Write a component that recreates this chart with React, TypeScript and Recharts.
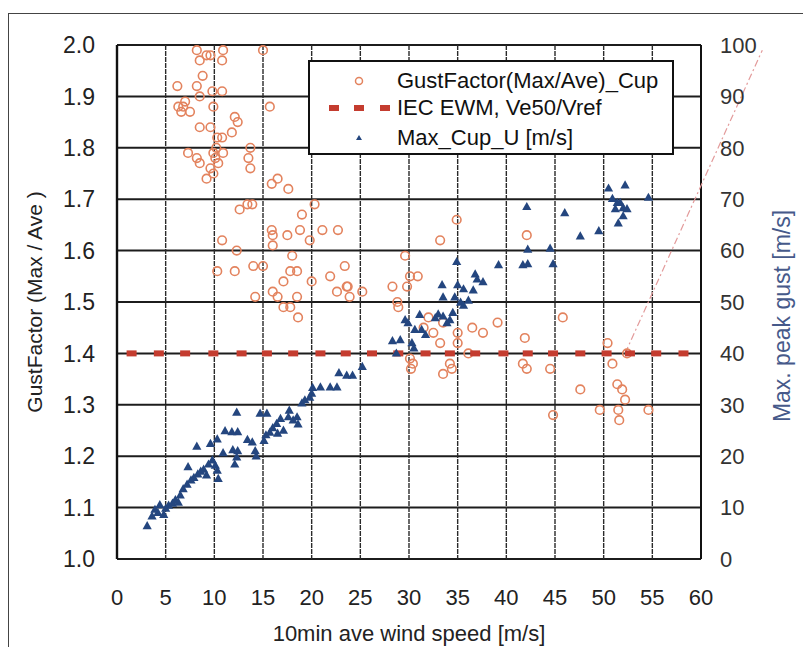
import React from 'react'
import {
  ScatterChart,
  Scatter,
  XAxis,
  YAxis,
  CartesianGrid,
  ReferenceLine,
  Legend,
  Label,
} from 'recharts'

// axis ticks
const windTicks = [0, 5, 10, 15, 20, 25, 30, 35, 40, 45, 50, 55, 60]
const gustTicks = [1.0, 1.1, 1.2, 1.3, 1.4, 1.5, 1.6, 1.7, 1.8, 1.9, 2.0]
const peakTicks = [0, 10, 20, 30, 40, 50, 60, 70, 80, 90, 100]

// GustFactor(Max/Ave)_Cup : [10min ave wind speed, gust factor]
const gustFactorCup: [number, number][] = [
  [8.2, 1.99], [9.2, 1.98], [8.5, 1.97], [9.6, 1.98], [10.9, 1.99], [10.8, 1.97], [15.0, 1.99],
  [8.8, 1.94], [6.2, 1.92], [8.2, 1.92], [9.8, 1.91], [10.8, 1.91], [8.5, 1.9], [6.8, 1.88],
  [6.3, 1.88], [6.6, 1.87], [7.0, 1.89], [7.5, 1.87], [9.9, 1.88], [15.7, 1.88], [12.1, 1.86],
  [12.4, 1.85], [8.5, 1.84], [9.6, 1.84], [11.8, 1.83], [10.3, 1.82], [10.8, 1.82], [13.7, 1.8],
  [7.3, 1.79], [8.2, 1.78], [8.5, 1.77], [10.1, 1.78], [10.2, 1.8], [9.9, 1.79], [10.4, 1.77],
  [10.9, 1.79], [9.6, 1.76], [9.9, 1.75], [9.2, 1.74], [13.5, 1.78], [13.7, 1.76], [15.9, 1.73],
  [16.5, 1.74], [17.6, 1.72], [12.6, 1.68], [13.4, 1.69], [13.9, 1.69], [19.0, 1.67], [20.3, 1.69],
  [15.9, 1.64], [16.0, 1.63], [17.5, 1.63], [18.8, 1.64], [19.8, 1.62], [21.1, 1.64], [22.7, 1.64],
  [16.0, 1.61], [12.3, 1.6], [10.8, 1.62], [18.0, 1.59], [23.4, 1.57], [14.0, 1.57], [12.1, 1.56],
  [10.3, 1.56], [17.8, 1.56], [21.9, 1.55], [15.0, 1.57], [18.5, 1.56], [17.1, 1.54], [16.0, 1.52],
  [16.5, 1.51], [14.2, 1.51], [20.0, 1.54], [22.6, 1.52], [23.7, 1.53], [23.9, 1.51], [18.5, 1.51],
  [17.1, 1.49], [18.6, 1.47], [17.8, 1.49], [23.6, 1.53], [28.3, 1.53], [28.8, 1.5], [34.9, 1.66],
  [33.2, 1.62], [42.1, 1.63], [29.6, 1.59], [30.9, 1.55], [29.8, 1.53], [30.1, 1.55], [25.2, 1.52],
  [28.9, 1.49], [36.5, 1.45], [37.6, 1.44], [39.1, 1.46], [33.2, 1.42], [35.0, 1.42], [41.9, 1.43],
  [32.5, 1.44], [31.5, 1.45], [32.0, 1.47], [33.5, 1.46], [35.0, 1.44], [30.1, 1.39], [34.2, 1.38],
  [34.4, 1.37], [36.1, 1.4], [41.7, 1.38], [42.1, 1.37], [30.4, 1.38], [30.2, 1.37], [33.5, 1.36],
  [45.8, 1.47], [44.5, 1.37], [50.4, 1.42], [50.9, 1.38], [47.6, 1.33], [51.4, 1.34], [51.9, 1.33],
  [52.2, 1.31], [51.5, 1.29], [51.6, 1.27], [49.6, 1.29], [44.8, 1.28], [54.6, 1.29], [52.4, 1.4],
]

// Max_Cup_U [m/s] : [10min ave wind speed, max peak gust]
const maxCupU: [number, number][] = [
  [3.1, 6.4], [3.6, 8.3], [3.9, 9.6], [4.2, 9.0], [4.4, 10.5], [4.8, 8.6], [5.0, 9.8], [5.3, 10.4],
  [5.7, 10.8], [6.0, 11.5], [6.3, 11.0], [6.5, 12.4], [6.8, 13.6], [7.2, 14.5], [7.3, 17.9], [7.6, 15.3],
  [7.9, 15.8], [8.2, 21.9], [8.3, 16.5], [8.6, 17.0], [8.9, 17.4], [9.2, 16.3], [9.4, 18.4], [9.6, 22.4],
  [9.8, 19.2], [10.1, 18.2], [10.3, 17.2], [10.4, 15.6], [10.3, 23.3], [11.1, 24.9], [10.9, 20.6],
  [11.8, 24.7], [12.4, 24.7], [12.3, 28.5], [11.9, 21.2], [12.4, 21.0], [12.3, 19.8], [12.1, 18.4],
  [13.4, 23.2], [13.9, 22.7], [14.2, 21.0], [14.3, 20.0], [14.7, 28.3], [15.4, 28.3], [15.1, 23.0],
  [15.3, 24.1], [15.7, 24.6], [16.0, 25.5], [16.4, 26.3], [16.8, 27.3], [16.5, 24.4], [17.1, 25.0],
  [17.6, 27.6], [17.7, 28.9], [18.1, 27.0], [18.5, 27.6], [18.6, 26.2], [19.0, 30.3], [19.3, 30.9],
  [19.8, 31.4], [20.0, 32.2], [20.1, 33.3], [20.9, 33.4], [21.9, 33.4], [22.6, 33.4], [22.8, 36.2],
  [23.6, 35.7], [24.2, 35.7], [25.2, 37.4],
  [28.3, 42.4], [28.7, 40.0], [29.1, 42.6], [29.6, 46.5], [29.9, 45.9], [30.3, 42.0], [30.5, 41.0],
  [30.6, 44.6], [31.1, 47.5], [31.3, 44.6], [31.7, 43.6], [32.7, 46.9], [33.0, 47.6], [33.4, 53.3],
  [33.5, 47.2], [33.5, 50.9], [33.9, 45.9], [34.2, 46.5], [34.5, 47.9], [34.7, 50.9], [34.9, 57.8],
  [35.0, 53.3], [35.3, 49.9], [35.6, 52.5], [35.6, 49.3], [36.1, 50.3], [36.6, 52.3], [36.8, 55.4],
  [37.0, 54.4], [37.6, 53.9], [39.2, 57.2],
  [41.7, 57.2], [42.2, 57.4], [42.2, 60.2], [42.1, 68.5], [44.5, 60.4], [44.8, 57.4], [46.0, 67.3],
  [47.6, 62.8], [49.5, 63.8], [50.5, 72.1], [50.9, 70.1], [51.2, 68.1], [51.4, 69.3], [51.7, 69.3],
  [52.0, 68.3], [52.0, 66.7], [52.2, 72.7], [52.4, 68.1], [51.5, 65.3], [54.6, 70.3],
]

// IEC EWM, Ve50/Vref
const iecSpeeds = [
  1.5, 4.3, 7.0, 9.9, 12.8, 15.4, 18.1, 20.9, 23.5, 26.2, 28.9,
  31.7, 34.2, 36.8, 39.7, 42.2, 44.8, 47.6, 50.3, 52.7, 55.4, 58.2,
]
const iecRatio = 1.4

// hand drawn dash-dot line on the right
const slantLine = [
  { x: 52.2, y: 1.4 },
  { x: 66.3, y: 1.99 },
]

const FONT = '"Liberation Sans", Arial, sans-serif'

const ORANGE = '#e3835e'
const NAVY = '#24467f'
const RED = '#c43c2f'

const gustData = gustFactorCup.map(([x, y]) => ({ x, y }))
const peakData = maxCupU.map(([x, y]) => ({ x, y }))
const iecData = iecSpeeds.map((x) => ({ x, y: iecRatio }))

const Ring = (p: any) => (
  <circle cx={p.cx} cy={p.cy} r={4.3} fill="none" stroke={ORANGE} strokeWidth={1.6} />
)

const Tri = (p: any) => (
  <path
    d={`M${p.cx},${p.cy - 5}L${p.cx + 4.6},${p.cy + 3.2}L${p.cx - 4.6},${p.cy + 3.2}Z`}
    fill={NAVY}
  />
)

const Dash = (p: any) => (
  <rect x={p.cx - 5} y={p.cy - 3} width={10} height={6} fill={RED} />
)

function LegendBox() {
  const row = { position: 'absolute' as const, left: 87, fontSize: 22, fontFamily: FONT, color: '#111', lineHeight: '24px' }
  return (
    <div
      style={{
        width: 362,
        height: 91,
        border: '2px solid #111',
        background: '#fff',
        position: 'relative',
      }}
    >
      <svg width={86} height={91} style={{ position: 'absolute', left: 0, top: 0 }}>
        <circle cx={49} cy={19} r={3.5} fill="none" stroke={ORANGE} strokeWidth={1.5} />
        <rect x={19} y={43} width={10} height={6} fill={RED} />
        <rect x={44} y={43} width={10} height={6} fill={RED} />
        <rect x={70} y={43} width={10} height={6} fill={RED} />
        <path d="M49,73L52,78L46,78Z" fill={NAVY} />
      </svg>
      <div style={{ ...row, top: 7 }}>GustFactor(Max/Ave)_Cup</div>
      <div style={{ ...row, top: 34 }}>IEC EWM, Ve50/Vref</div>
      <div style={{ ...row, top: 64 }}>Max_Cup_U [m/s]</div>
    </div>
  )
}

export default function App() {
  return (
    <div
      style={{
        position: 'fixed',
        left: 0,
        top: 0,
        width: 803,
        height: 647,
        overflow: 'hidden',
        background: '#fff',
      }}
    >
      <div
        style={{
          position: 'absolute',
          left: 8,
          top: 13,
          width: 820,
          height: 660,
          borderLeft: '1.5px solid #444',
          borderTop: '1.5px solid #444',
        }}
      />
      <div style={{ position: 'absolute', left: 0, top: 0 }}>
        <ScatterChart width={803} height={647} margin={{ top: 45, right: 7, left: 17, bottom: 0 }}>
          <CartesianGrid yAxisId="left" vertical={false} stroke="#1c1c1c" strokeWidth={2} />
          <CartesianGrid yAxisId="left" horizontal={false} stroke="#2a2a2a" strokeWidth={1.4} strokeDasharray="5 1" />
          <XAxis
            type="number"
            dataKey="x"
            domain={[0, 60]}
            ticks={windTicks}
            interval={0}
            height={88}
            axisLine={false}
            tickLine={false}
            tickSize={6}
            tickMargin={24}
            tick={{ fontSize: 22, fill: '#222', fontFamily: FONT }}
          >
            <Label
              value="10min ave wind speed [m/s]"
              position="insideBottom"
              offset={6}
              style={{ fontSize: 22, fill: '#222', fontFamily: FONT }}
            />
          </XAxis>
          <YAxis
            yAxisId="left"
            type="number"
            dataKey="y"
            domain={[1, 2]}
            ticks={gustTicks}
            interval={0}
            tickFormatter={(v: number) => v.toFixed(1)}
            width={100}
            axisLine={false}
            tickLine={false}
            tickSize={6}
            tickMargin={16}
            tick={{ fontSize: 23, fill: '#222', fontFamily: FONT }}
          >
            <Label
              value="GustFactor (Max / Ave )"
              angle={-90}
              position="insideLeft"
              offset={18}
              style={{ textAnchor: 'middle', fontSize: 21, fill: '#222', fontFamily: FONT }}
            />
          </YAxis>
          <YAxis
            yAxisId="right"
            orientation="right"
            type="number"
            dataKey="y"
            domain={[0, 100]}
            ticks={peakTicks}
            interval={0}
            width={95}
            axisLine={false}
            tickLine={false}
            tickSize={6}
            tickMargin={13}
            tick={{ fontSize: 22, fill: '#333', fontFamily: FONT }}
          >
            <Label
              value="Max. peak gust [m/s]"
              angle={-90}
              position="insideRight"
              offset={14}
              dy={14}
              style={{ textAnchor: 'middle', fontSize: 23, fill: '#46598a', fontFamily: FONT }}
            />
          </YAxis>
          <ReferenceLine yAxisId="left" x={0} stroke="#111" strokeWidth={2.4} />
          <ReferenceLine yAxisId="left" x={60} stroke="#111" strokeWidth={2} />
          <Scatter
            yAxisId="left"
            name="GustFactor(Max/Ave)_Cup"
            data={gustData}
            shape={Ring}
            isAnimationActive={false}
          />
          <Scatter
            yAxisId="left"
            name="IEC EWM, Ve50/Vref"
            data={iecData}
            shape={Dash}
            isAnimationActive={false}
          />
          <Scatter
            yAxisId="right"
            name="Max_Cup_U [m/s]"
            data={peakData}
            shape={Tri}
            isAnimationActive={false}
          />
          <ReferenceLine
            yAxisId="left"
            segment={slantLine}
            ifOverflow="visible"
            stroke="#e39b9b"
            strokeWidth={1.2}
            strokeDasharray="7 3 2 3"
          />
          <Legend
            layout="horizontal"
            verticalAlign="middle"
            align="center"
            wrapperStyle={{ left: 308, top: 60, width: 366, height: 95 }}
            content={() => <LegendBox />}
          />
        </ScatterChart>
      </div>
    </div>
  )
}
